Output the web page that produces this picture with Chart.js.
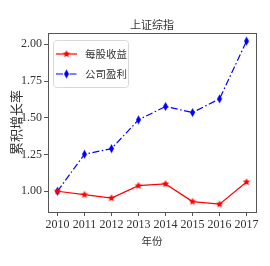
<!DOCTYPE html>
<html>
<head>
<meta charset="utf-8">
<script src="https://cdn.jsdelivr.net/npm/chart.js@4/dist/chart.umd.min.js"></script>
<style>
  html, body { margin: 0; padding: 0; background: #fff; }
  #wrap { width: 270px; height: 266px; }
</style>
</head>
<body>
<div id="wrap"><canvas id="c" width="270" height="266"></canvas></div>
<script>
const years = [2010, 2011, 2012, 2013, 2014, 2015, 2016, 2017];
const epsGrowth = [1.00, 0.977, 0.954, 1.038, 1.050, 0.930, 0.912, 1.063];
const profitGrowth = [1.00, 1.252, 1.290, 1.486, 1.577, 1.536, 1.629, 2.022];
const yTicks = [1.00, 1.25, 1.50, 1.75, 2.00];
const seriesNames = ['每股收益', '公司盈利'];
const chartTitle = '上证综指';

const cjk = '"Noto Sans CJK SC", sans-serif';
const serif = '"Liberation Serif", "DejaVu Serif", serif';

function makeStar(color, r) {
    const cv = document.createElement('canvas');
    const s = r * 2 + 2;
    cv.width = s; cv.height = s;
    const g = cv.getContext('2d');
    g.fillStyle = color;
    g.beginPath();
    for (let i = 0; i < 10; i++) {
        const rad = i % 2 === 0 ? r : r * 0.45;
        const a = -Math.PI / 2 + i * Math.PI / 5;
        const x = s / 2 + rad * Math.cos(a);
        const y = s / 2 + rad * Math.sin(a);
        if (i === 0) g.moveTo(x, y); else g.lineTo(x, y);
    }
    g.closePath();
    g.fill();
    return cv;
}

function makeDiamond(color, w, h) {
    const cv = document.createElement('canvas');
    cv.width = w + 2; cv.height = h + 2;
    const g = cv.getContext('2d');
    g.fillStyle = color;
    g.beginPath();
    g.moveTo(cv.width / 2, 1);
    g.lineTo(cv.width - 1, cv.height / 2);
    g.lineTo(cv.width / 2, cv.height - 1);
    g.lineTo(1, cv.height / 2);
    g.closePath();
    g.fill();
    return cv;
}

const starImg = makeStar('#ff0000', 4);
const diamondImg = makeDiamond('#0000ff', 5, 9);

// box around the plot, title over the plot, and the legend inside it
const framePlugin = {
    id: 'frame',
    afterDraw(chart) {
        const a = chart.chartArea;
        const ctx = chart.ctx;
        ctx.save();
        ctx.strokeStyle = '#555';
        ctx.lineWidth = 1;
        ctx.strokeRect(Math.round(a.left) + 0.5, Math.round(a.top) + 0.5,
            Math.round(a.right - a.left), Math.round(a.bottom - a.top));

        ctx.fillStyle = '#333';
        ctx.font = '11px ' + cjk;
        ctx.textAlign = 'center';
        ctx.textBaseline = 'middle';
        ctx.fillText(chartTitle, (a.left + a.right) / 2, a.top - 8);

        // legend
        const bx = a.left + 5, by = a.top + 7, bw = 75, bh = 47;
        ctx.fillStyle = 'rgba(255,255,255,0.8)';
        ctx.strokeStyle = '#d8d8d8';
        ctx.beginPath();
        ctx.roundRect(bx + 0.5, by + 0.5, bw, bh, 3);
        ctx.fill();
        ctx.stroke();

        ctx.textAlign = 'left';
        chart.data.datasets.forEach((ds, i) => {
            const y = by + 14 + i * 20;
            ctx.strokeStyle = ds.borderColor;
            ctx.lineWidth = ds.borderWidth;
            ctx.setLineDash(ds.borderDash || []);
            ctx.beginPath();
            ctx.moveTo(bx + 3, y);
            ctx.lineTo(bx + 24, y);
            ctx.stroke();
            ctx.setLineDash([]);
            const img = ds.pointStyle;
            ctx.drawImage(img, bx + 13.5 - img.width / 2, y - img.height / 2);
            ctx.fillStyle = '#333';
            ctx.font = '10.5px ' + cjk;
            ctx.fillText(ds.label, bx + 32, y + 0.5);
        });
        ctx.restore();
    }
};

new Chart(document.getElementById('c'), {
    type: 'line',
    data: {
        datasets: [{
            label: seriesNames[0],
            data: years.map((x, i) => ({ x: x, y: epsGrowth[i] })),
            borderColor: '#ff0000',
            borderWidth: 1.2,
            pointStyle: starImg,
            pointBackgroundColor: '#ff0000',
            tension: 0
        }, {
            label: seriesNames[1],
            data: years.map((x, i) => ({ x: x, y: profitGrowth[i] })),
            borderColor: '#0000ff',
            borderWidth: 1.2,
            borderDash: [7, 2.5, 1.5, 2.5],
            pointStyle: diamondImg,
            pointBackgroundColor: '#0000ff',
            tension: 0
        }]
    },
    options: {
        responsive: false,
        animation: false,
        layout: { padding: { left: 6, right: 14, top: 33, bottom: 0 } },
        plugins: {
            legend: { display: false },
            tooltip: { enabled: false },
            title: { display: false }
        },
        scales: {
            x: {
                type: 'linear',
                min: 2009.65,
                max: 2017.35,
                afterBuildTicks: (axis) => { axis.ticks = years.map(v => ({ value: v })); },
                afterFit: (scale) => { scale.height = 54; },
                grid: { display: true, drawOnChartArea: false, drawTicks: true, tickLength: 4, color: '#555' },
                border: { display: false },
                ticks: {
                    color: '#333',
                    padding: 2,
                    maxRotation: 0,
                    font: { family: serif, size: 12 },
                    callback: (v) => String(v)
                },
                title: {
                    display: true,
                    text: '年份',
                    color: '#333',
                    font: { family: cjk, size: 10.5 },
                    padding: { top: 0, bottom: 19 }
                }
            },
            y: {
                min: 0.859,
                max: 2.077,
                afterBuildTicks: (axis) => { axis.ticks = yTicks.map(v => ({ value: v })); },
                afterFit: (scale) => { scale.width = 42; },
                grid: { display: true, drawOnChartArea: false, drawTicks: true, tickLength: 4, color: '#555' },
                border: { display: false },
                ticks: {
                    color: '#333',
                    padding: 2,
                    font: { family: serif, size: 12 },
                    callback: (v) => v.toFixed(2)
                },
                title: {
                    display: true,
                    text: '累积增长率',
                    color: '#333',
                    font: { family: cjk, size: 13 },
                    padding: { top: 2, bottom: 0 }
                }
            }
        }
    },
    plugins: [framePlugin]
});
</script>
</body>
</html>
